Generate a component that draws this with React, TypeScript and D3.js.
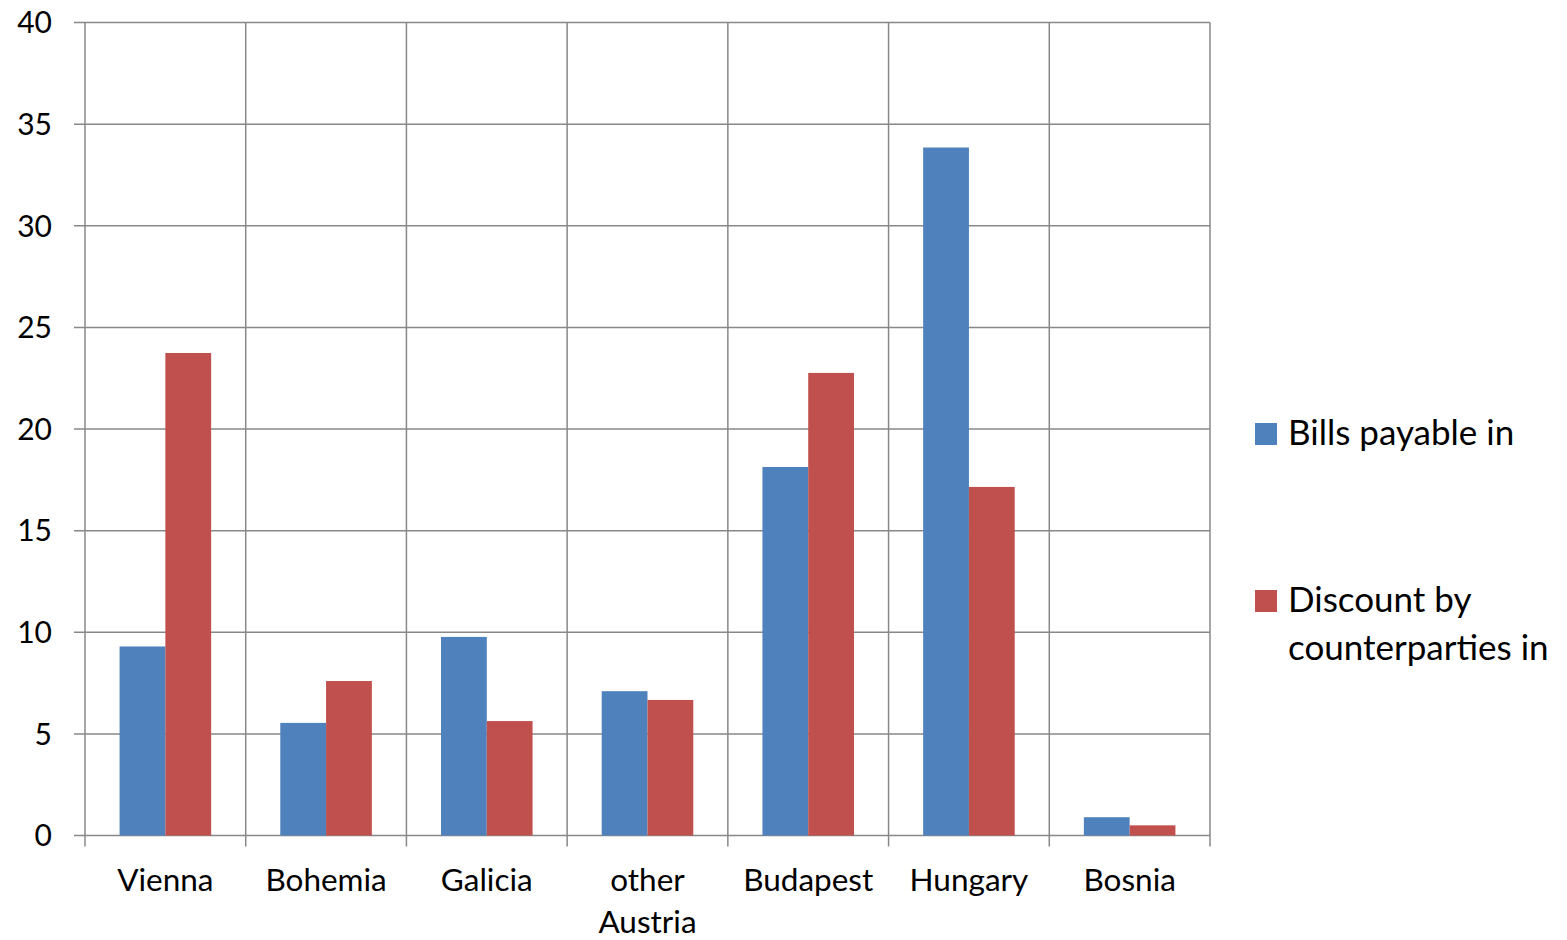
import React from "react";
import * as d3 from "d3";

const categories: string[][] = [["Vienna"], ["Bohemia"], ["Galicia"], ["other", "Austria"], ["Budapest"], ["Hungary"], ["Bosnia"]];
const seriesNames = ["Bills payable in", "Discount by counterparties in"];
const billsPayable = [9.3, 5.54, 9.77, 7.1, 18.13, 33.85, 0.9];
const discountBy = [23.74, 7.6, 5.63, 6.67, 22.76, 17.15, 0.5];
const yTicks = [0, 5, 10, 15, 20, 25, 30, 35, 40];
const colors = ["#4F81BD", "#C0504D"];
const legendLines = [["Bills payable in"], ["Discount by", "counterparties in"]];

const W = 1567, H = 940;
const left = 85, right = 1210, top = 22.5, bottom = 835.5;
const FONT = "Lato, 'Open Sans', sans-serif";

export default function App() {
  const keys = categories.map((_, i) => String(i));
  const x = d3.scaleBand<string>().domain(keys).range([left, right]).paddingInner(0).paddingOuter(0);
  const inner = d3.scaleBand<string>().domain(["0", "1"]).range([0, x.bandwidth()]).paddingInner(0).paddingOuter(0.755);
  const y = d3.scaleLinear().domain([0, 40]).range([bottom, top]);
  const series = [billsPayable, discountBy];
  const boundaries = d3.range(categories.length + 1).map((i) => left + i * x.step());

  return (
    <svg width={W} height={H} style={{ position: "absolute", left: 0, top: 0, background: "#fff" }}>
      {yTicks.map((t) => (
        <line key={"h" + t} x1={left - 11} x2={right} y1={y(t)} y2={y(t)} stroke="#888" strokeWidth={1.5} />
      ))}
      {boundaries.map((bx, i) => (
        <line key={"v" + i} x1={bx} x2={bx} y1={top} y2={bottom + 11} stroke="#888" strokeWidth={1.5} />
      ))}
      {series.map((vals, s) =>
        vals.map((v, i) => (
          <rect
            key={s + "-" + i}
            x={(x(String(i)) as number) + (inner(String(s)) as number)}
            y={y(v)}
            width={inner.bandwidth()}
            height={y(0) - y(v)}
            fill={colors[s]}
          />
        ))
      )}
      {yTicks.map((t) => (
        <text key={"yt" + t} x={52} y={y(t)} dy="0.36em" textAnchor="end" fontFamily={FONT} fontSize={30} fill="#000">
          {t}
        </text>
      ))}
      {categories.map((lines, i) => (
        <text key={"c" + i} textAnchor="middle" fontFamily={FONT} fontSize={31.5} fill="#000">
          {lines.map((ln, j) => (
            <tspan key={j} x={(x(String(i)) as number) + x.bandwidth() / 2} y={891 + j * 42}>
              {ln}
            </tspan>
          ))}
        </text>
      ))}
      {legendLines.map((lines, s) => {
        const baseY = s === 0 ? 445 : 612;
        return (
          <g key={"lg" + s}>
            <rect x={1255} y={baseY - 22} width={22} height={22} fill={colors[s]} />
            <text fontFamily={FONT} fontSize={35} fill="#000">
              {lines.map((ln, j) => (
                <tspan key={j} x={1288} y={baseY + j * 48}>
                  {ln}
                </tspan>
              ))}
            </text>
          </g>
        );
      })}
    </svg>
  );
}
